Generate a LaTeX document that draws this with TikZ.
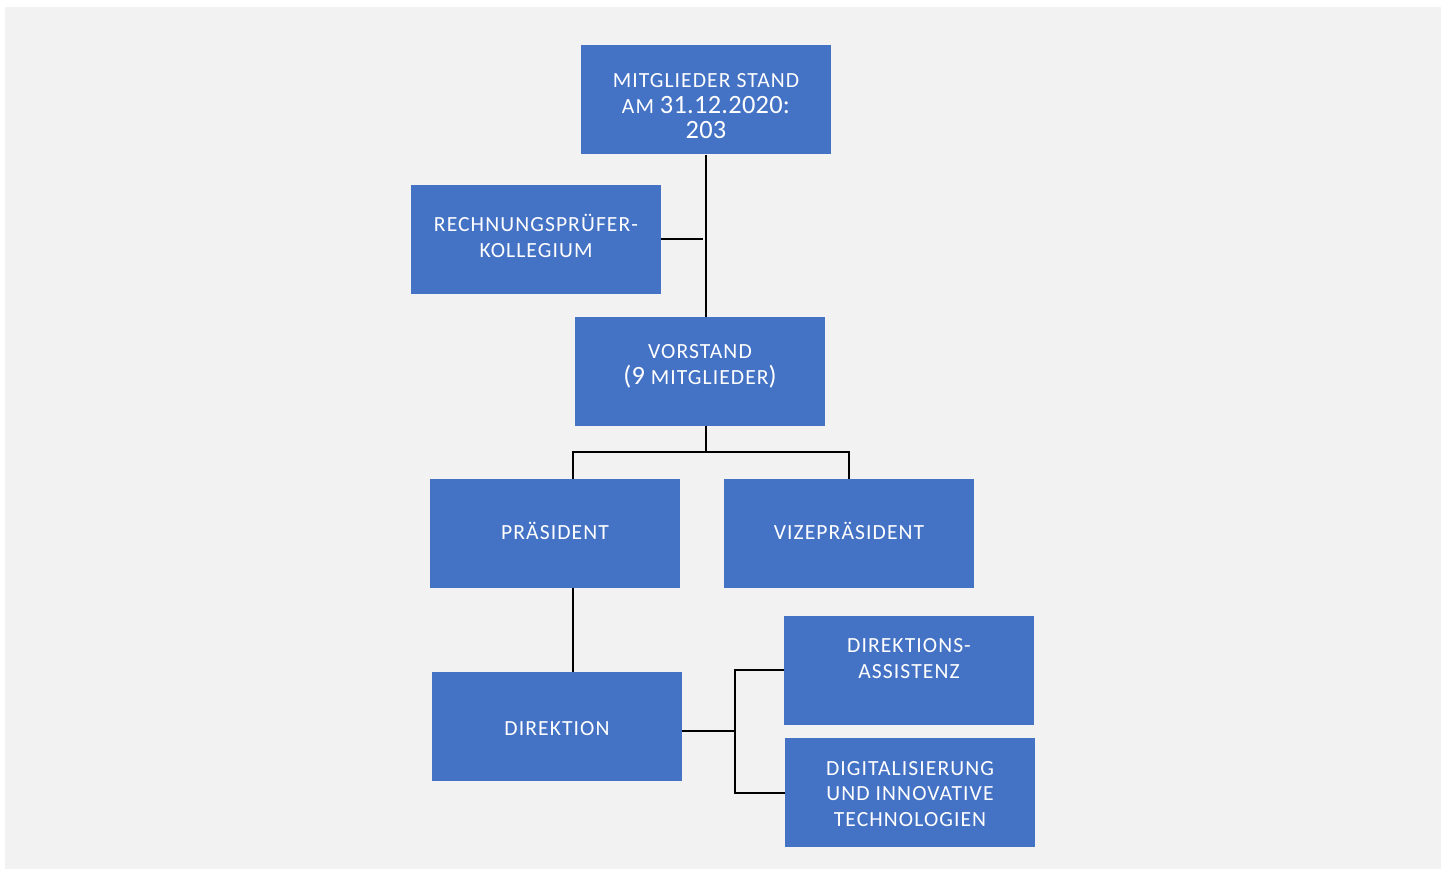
\documentclass[tikz,border=0pt]{standalone}
\usepackage{fontspec}
\setmainfont{Carlito}[LetterSpace=5]
\usepackage{tikz}
\definecolor{boxblue}{HTML}{4472C4}
\definecolor{bggrey}{HTML}{F2F2F2}
\newcommand{\bignum}[1]{{\fontsize{13.2}{12.75}\selectfont\addfontfeature{LetterSpace=1}#1}}

\begin{document}
\begin{tikzpicture}[x=0.5pt,y=-0.5pt,
   orgbox/.style={rectangle,fill=boxblue,minimum width=125pt,minimum height=54.5pt,inner sep=0pt},
   orgtext/.style={text=white,inner sep=0pt,align=center,font=\fontsize{10.8}{12.75}\selectfont},
   link/.style={line width=1pt,black}]
  \useasboundingbox (0,0) rectangle (1450,870);
  \fill[bggrey] (5,7) rectangle (1441,869);

  \draw (706,100) node[orgbox,label={[orgtext,yshift=-3.25pt]center:MITGLIEDER STAND\\AM \bignum{31.12.2020:}\\\bignum{203}}] (mitglieder) {};
  \draw (536,239.5) node[orgbox,label={[orgtext,yshift=1.75pt]center:RECHNUNGSPRÜFER-\\KOLLEGIUM}] (pruefer) {};
  \draw (700,371.5) node[orgbox,label={[orgtext,yshift=2.5pt]center:VORSTAND\\\bignum{(9} MITGLIEDER\bignum{)}}] (vorstand) {};
  \draw (555,533.5) node[orgbox,label={[orgtext,yshift=1.5pt]center:PRÄSIDENT}] (praesident) {};
  \draw (849,533.5) node[orgbox,label={[orgtext,yshift=1.5pt]center:VIZEPRÄSIDENT}] (vize) {};
  \draw (557,726.5) node[orgbox,label={[orgtext,yshift=-1pt]center:DIREKTION}] (direktion) {};
  \draw (909,670.5) node[orgbox,label={[orgtext,yshift=6pt]center:DIREKTIONS-\\ASSISTENZ}] (assistenz) {};
  \draw (910,792.5) node[orgbox,label={[orgtext,yshift=-0.75pt]center:DIGITALISIERUNG\\UND INNOVATIVE\\TECHNOLOGIEN}] (digital) {};

  \draw[link] (mitglieder.south) -- (mitglieder.south |- vorstand.north);
  \draw[link] (pruefer.east) -- ([xshift=-1.5pt]pruefer.east -| mitglieder.south);

  \draw[link] (vorstand.south -| mitglieder.south) -- ++(0,26) coordinate (fork);
  \draw[link] ([xshift=9pt]praesident.north) |- (fork) -| (vize.north);
  \draw[link] ([xshift=9pt]praesident.south) -- ([xshift=9pt]praesident.south |- direktion.north);

  \draw[link] ([yshift=-2.25pt]direktion.east) -- ++(53,0) coordinate (branch);
  \draw[link] (assistenz.west) -| (branch) |- (digital.west);
\end{tikzpicture}
\end{document}
